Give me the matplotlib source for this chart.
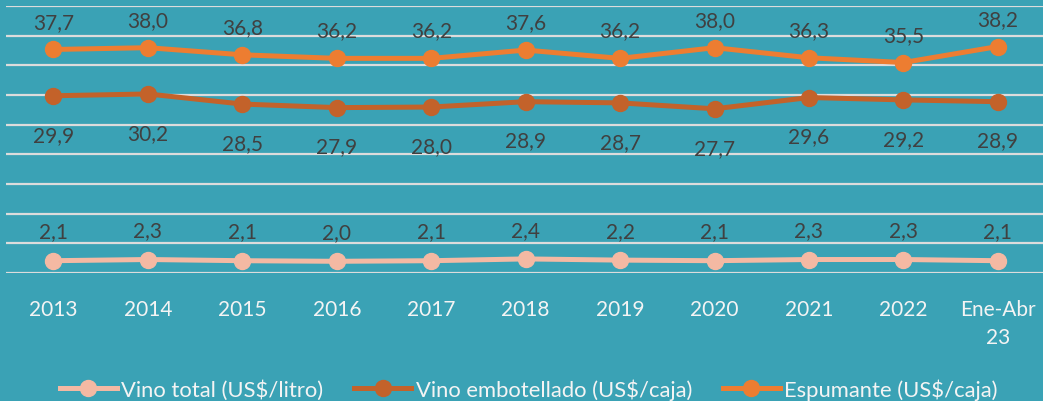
import matplotlib
matplotlib.use("Agg")
import matplotlib.pyplot as plt
from matplotlib.lines import Line2D

categories = ["2013", "2014", "2015", "2016", "2017", "2018", "2019", "2020", "2021", "2022", "Ene-Abr\n23"]
vino_total = [2.1, 2.3, 2.1, 2.0, 2.1, 2.4, 2.2, 2.1, 2.3, 2.3, 2.1]
vino_embotellado = [29.9, 30.2, 28.5, 27.9, 28.0, 28.9, 28.7, 27.7, 29.6, 29.2, 28.9]
espumante = [37.7, 38.0, 36.8, 36.2, 36.2, 37.6, 36.2, 38.0, 36.3, 35.5, 38.2]
series_names = ["Vino total (US$/litro)", "Vino embotellado (US$/caja)", "Espumante (US$/caja)"]

bg = "#3aa2b5"
c_total = "#f4b9a3"
c_embo = "#c3622a"
c_esp = "#ed7d31"
label_color = "#404040"

plt.rcParams['font.family'] = ['Lato', 'DejaVu Sans']

fig = plt.figure(figsize=(10.43, 4.02), dpi=100, facecolor=bg)
ax = fig.add_axes([0.006, 0.318, 0.996, 0.6642])
ax.set_facecolor(bg)

x = list(range(len(categories)))
lw = 3.6
ms = 11.5
ax.plot(x, vino_total, color=c_total, lw=lw, marker='o', ms=ms, zorder=3)
ax.plot(x, vino_embotellado, color=c_embo, lw=lw, marker='o', ms=ms, zorder=3)
ax.plot(x, espumante, color=c_esp, lw=lw, marker='o', ms=ms, zorder=3)

def fmt(v):
    return f"{v:.1f}".replace(".", ",")

fs = 15
for xi, v in zip(x, espumante):
    ax.annotate(fmt(v), (xi, v), xytext=(0, 20), textcoords='offset points',
                ha='center', va='center', fontsize=fs, color=label_color)
for xi, v in zip(x, vino_embotellado):
    ax.annotate(fmt(v), (xi, v), xytext=(0, -28), textcoords='offset points',
                ha='center', va='center', fontsize=fs, color=label_color)
for xi, v in zip(x, vino_total):
    ax.annotate(fmt(v), (xi, v), xytext=(0, 21), textcoords='offset points',
                ha='center', va='center', fontsize=fs, color=label_color)

ax.set_xlim(-0.5, len(categories) - 0.5)
ax.set_ylim(0, 45)
ax.set_yticks(range(0, 46, 5))
ax.yaxis.grid(True, color="#dcdcdc", lw=1.6)
ax.set_axisbelow(True)
ax.tick_params(axis='y', left=False, labelleft=False)
ax.set_xticks(x)
ax.set_xticklabels(categories, color="#f4f4f4", fontsize=fs, linespacing=1.5)
ax.tick_params(axis='x', bottom=False, pad=15)
for s in ax.spines.values():
    s.set_visible(False)

handles = [Line2D([], [], color=c, lw=lw, marker='o', ms=ms) for c in (c_total, c_embo, c_esp)]
fig.legend(handles, series_names, loc='center', bbox_to_anchor=(0.507, 0.03), ncol=3,
           frameon=False, fontsize=15.8, labelcolor="#f4f4f4", handlelength=2.6,
           handletextpad=0.2, columnspacing=1.4, borderaxespad=0)

fig.savefig("out.png", dpi=100, facecolor=bg)
